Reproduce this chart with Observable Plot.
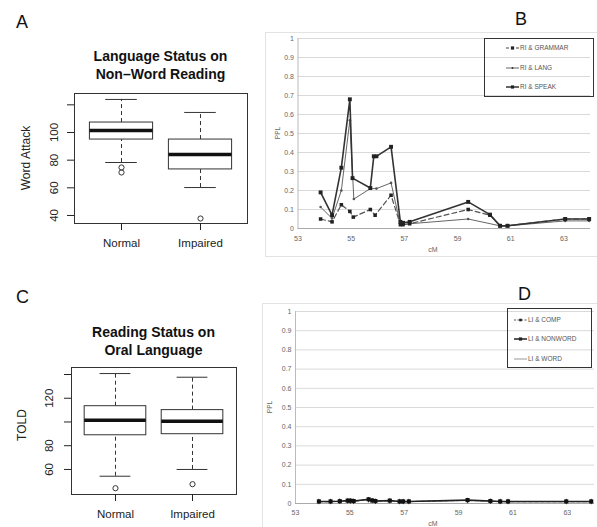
<!DOCTYPE html>
<html><head><meta charset="utf-8">
<script src="https://cdn.jsdelivr.net/npm/d3@7"></script>
<script src="https://cdn.jsdelivr.net/npm/@observablehq/plot@0.6"></script>
<style>
body{margin:0;background:#fff;}
#fig{position:relative;width:597px;height:527px;overflow:hidden;background:#fff;font-family:"Liberation Sans",Arial,Helvetica,sans-serif;}
.abs{position:absolute;white-space:nowrap;}
</style></head><body><div id="fig"></div>
<script>
// ---------- Panel A data (Language Status on Non-Word Reading) ----------
const catsA = ["Normal", "Impaired"];
const aLo = [78.3, 60.2];
const aQ1 = [94.9, 73.3];
const aMed = [101.4, 84.1];
const aQ3 = [107.2, 94.9];
const aHi = [123.9, 114.5];
const aOutGroup = [1, 1, 2];
const aOutVal = [74.7, 71.1, 37.8];
const aTicks = [40, 60, 80, 100, 120];
const aTickLabels = ["40", "60", "80", "100", ""];

// ---------- Panel C data (Reading Status on Oral Language) ----------
const catsC = ["Normal", "Impaired"];
const cLo = [54.3, 60.0];
const cQ1 = [88.8, 89.7];
const cMed = [101.5, 100.6];
const cQ3 = [113.3, 110.0];
const cHi = [140.8, 137.7];
const cOutGroup = [1, 2];
const cOutVal = [44.2, 47.6];
const cTicks = [60, 80, 100, 120, 140];
const cTickLabels = ["60", "80", "", "120", ""];

// ---------- Panel B data (PPL by cM) ----------
const cmGrammar = [53.85, 54.28, 54.63, 54.95, 55.08, 55.72, 55.9, 56.5, 56.85, 56.95, 57.2, 59.4, 60.22, 60.6, 60.88, 63.05, 63.95];
const pplGrammar = [0.05, 0.035, 0.125, 0.09, 0.06, 0.10, 0.07, 0.175, 0.02, 0.02, 0.025, 0.10, 0.07, 0.015, 0.015, 0.05, 0.05];
const cmLang = [53.85, 54.28, 54.63, 54.95, 55.1, 55.72, 55.95, 56.5, 56.85, 56.95, 57.2, 59.4, 60.6, 60.88, 63.05, 63.95];
const pplLang = [0.113, 0.053, 0.2, 0.57, 0.155, 0.21, 0.21, 0.24, 0.02, 0.02, 0.025, 0.05, 0.014, 0.014, 0.04, 0.04];
const cmSpeak = [53.85, 54.28, 54.63, 54.95, 55.05, 55.72, 55.85, 55.95, 56.5, 56.85, 56.95, 57.2, 59.4, 60.22, 60.6, 60.88, 63.05, 63.95];
const pplSpeak = [0.19, 0.07, 0.32, 0.68, 0.265, 0.213, 0.38, 0.38, 0.43, 0.035, 0.03, 0.035, 0.14, 0.073, 0.014, 0.014, 0.05, 0.05];

// ---------- Panel D data ----------
const cmD = [53.86, 54.29, 54.63, 54.92, 55.02, 55.14, 55.69, 55.82, 55.94, 56.47, 56.83, 56.96, 57.17, 59.33, 60.17, 60.53, 60.82, 62.96, 63.88];
const pplComp = [0.010, 0.010, 0.012, 0.014, 0.013, 0.012, 0.020, 0.015, 0.012, 0.014, 0.010, 0.010, 0.010, 0.016, 0.012, 0.010, 0.010, 0.010, 0.010];
const pplNonword = [0.011, 0.011, 0.012, 0.015, 0.015, 0.013, 0.022, 0.016, 0.013, 0.015, 0.011, 0.011, 0.011, 0.018, 0.013, 0.011, 0.011, 0.011, 0.011];
const pplWord = [0.010, 0.010, 0.011, 0.013, 0.013, 0.012, 0.019, 0.014, 0.012, 0.013, 0.010, 0.010, 0.010, 0.015, 0.012, 0.010, 0.010, 0.010, 0.010];

const pplTicks = [0, 0.1, 0.2, 0.3, 0.4, 0.5, 0.6, 0.7, 0.8, 0.9, 1];
const pplTickLabels = ["0", "0.1", "0.2", "0.3", "0.4", "0.5", "0.6", "0.7", "0.8", "0.9", "1"];
const cmTicks = [53, 55, 57, 59, 61, 63];

const FONT = '"Liberation Sans", Arial, Helvetica, sans-serif';
const fig = document.getElementById("fig");

function addText(str, x, y, {size = 12, weight = "normal", color = "#222", anchor = "start", rotate = 0} = {}) {
  const d = document.createElement("div");
  d.className = "abs";
  d.textContent = str;
  d.style.fontSize = size + "px";
  d.style.lineHeight = size + "px";
  d.style.fontWeight = weight;
  d.style.color = color;
  if (rotate) {
    d.style.left = x + "px"; d.style.top = y + "px";
    d.style.transform = `translate(-50%,-50%) rotate(${rotate}deg)`;
  } else {
    d.style.top = (y - 0.846 * size) + "px";
    d.style.left = x + "px";
    if (anchor === "middle") d.style.transform = "translateX(-50%)";
  }
  fig.appendChild(d);
}
function place(svg, left, top) {
  svg.style.position = "absolute";
  svg.style.left = left + "px";
  svg.style.top = top + "px";
  fig.appendChild(svg);
}
function addBox(left, top, w, h, color, bw = 1) {
  const d = document.createElement("div");
  d.className = "abs";
  Object.assign(d.style, {left: left + "px", top: top + "px", width: w + "px", height: h + "px",
    border: `${bw}px solid ${color}`, boxSizing: "border-box"});
  fig.appendChild(d);
  return d;
}

function boxPanel(o) {
  const rows = o.cats.map((c, i) => ({g: i + 1, lo: o.lo[i], q1: o.q1[i], med: o.med[i], q3: o.q3[i], hi: o.hi[i]}));
  const outs = o.outG.map((g, i) => ({g, v: o.outV[i]}));
  const hw = 0.4, cw = 0.2;
  return Plot.plot({
    width: o.width, height: o.height,
    marginLeft: o.ml, marginRight: o.mr, marginTop: o.mt, marginBottom: o.mb,
    x: {domain: o.xDomain, axis: null},
    y: {domain: o.yDomain, axis: null},
    style: {fontFamily: FONT, fontSize: "11.5px", color: "#222", background: "transparent", overflow: "visible"},
    marks: [
      Plot.ruleX(rows, {x: "g", y1: "q3", y2: "hi", stroke: "#333", strokeDasharray: "4,3"}),
      Plot.ruleX(rows, {x: "g", y1: "lo", y2: "q1", stroke: "#333", strokeDasharray: "4,3"}),
      Plot.ruleY(rows, {y: "hi", x1: d => d.g - cw, x2: d => d.g + cw, stroke: "#333"}),
      Plot.ruleY(rows, {y: "lo", x1: d => d.g - cw, x2: d => d.g + cw, stroke: "#333"}),
      Plot.rect(rows, {x1: d => d.g - hw, x2: d => d.g + hw, y1: "q1", y2: "q3", fill: "white", stroke: "#333"}),
      Plot.ruleY(rows, {y: "med", x1: d => d.g - hw, x2: d => d.g + hw, stroke: "#111", strokeWidth: 3.5}),
      Plot.dot(outs, {x: "g", y: "v", r: 2.6, stroke: "#333", strokeWidth: 1}),
      Plot.frame({stroke: "#333"}),
      Plot.axisY({ticks: o.yTicks, tickFormat: d => o.yLabels[o.yTicks.indexOf(d)], tickRotate: -90, tickSize: 7, tickPadding: o.yPad, label: null}),
      Plot.axisX({ticks: [1, 2], tickFormat: d => o.cats[d - 1], tickSize: 7, tickPadding: 8, label: null})
    ]
  });
}

function linePanel(o) {
  const rowsOf = (cm, v) => cm.map((x, i) => ({cm: x, ppl: v[i]}));
  const marks = [
    Plot.gridY({ticks: pplTicks, stroke: "#d9d9d9", strokeOpacity: 1}),
    Plot.ruleX([53], {stroke: "#bbb"}),
    Plot.ruleY([0], {stroke: "#aaa"}),
    Plot.axisY({ticks: pplTicks, tickFormat: d => pplTickLabels[pplTicks.indexOf(d)], tickSize: 0, tickPadding: 4, label: null}),
    Plot.axisX({ticks: cmTicks, tickSize: 0, tickPadding: o.xPad, label: null})
  ];
  for (const s of o.series) {
    const rows = rowsOf(s.cm, s.v);
    marks.push(Plot.line(rows, {x: "cm", y: "ppl", stroke: s.color, strokeWidth: s.w, strokeDasharray: s.dash || null}));
    if (s.r) marks.push(Plot.dot(rows, {x: "cm", y: "ppl", r: s.r, fill: s.mcolor, symbol: s.symbol}));
  }
  return Plot.plot({
    width: o.width, height: o.height,
    marginLeft: o.ml, marginRight: o.mr, marginTop: o.mt, marginBottom: o.mb,
    x: {domain: [53, 64], axis: null},
    y: {domain: [0, 1], axis: null},
    style: {fontFamily: FONT, fontSize: "7px", color: "#666", background: "transparent", overflow: "visible"},
    marks
  });
}

function legend(left, top, w, h, items) {
  addBox(left, top, w, h, "#333", 1.3);
  for (const it of items) {
    const svg = d3.create("svg").attr("width", 14).attr("height", 8)
      .style("position", "absolute").style("left", it.sx + "px").style("top", (it.y - 4) + "px");
    svg.append("line").attr("x1", 0).attr("x2", 13).attr("y1", 4).attr("y2", 4)
      .attr("stroke", it.color).attr("stroke-width", it.w).attr("stroke-dasharray", it.dash || null);
    if (it.r) svg.append("rect").attr("x", 6.5 - it.r).attr("y", 4 - it.r).attr("width", 2 * it.r).attr("height", 2 * it.r).attr("fill", "#222");
    fig.appendChild(svg.node());
    addText(it.label, it.sx + 14, it.y + 2.3, {size: 6.5, color: "#555"});
  }
}

// ---------- Panel A ----------
place(boxPanel({cats: catsA, lo: aLo, q1: aQ1, med: aMed, q3: aQ3, hi: aHi, outG: aOutGroup, outV: aOutVal,
  xDomain: [0.405, 2.595], yDomain: [34.2, 128.2], yTicks: aTicks, yLabels: aTickLabels, yPad: 10,
  width: 250, height: 262, ml: 74, mr: 3, mt: 93, mb: 39}), 0, 0);
addText("A", 16, 28, {size: 18, color: "#111"});
addText("Language Status on", 160.5, 61, {size: 14, weight: "bold", color: "#111", anchor: "middle"});
addText("Non\u2013Word Reading", 160.5, 78.5, {size: 14, weight: "bold", color: "#111", anchor: "middle"});
addText("Word Attack", 26, 158, {size: 12, color: "#222", rotate: -90});

// ---------- Panel C ----------
place(boxPanel({cats: catsC, lo: cLo, q1: cQ1, med: cMed, q3: cQ3, hi: cHi, outG: cOutGroup, outV: cOutVal,
  xDomain: [0.429, 2.571], yDomain: [38.9, 145.9], yTicks: cTicks, yLabels: cTickLabels, yPad: 12,
  width: 250, height: 257, ml: 71, mr: 14, mt: 97, mb: 33}), 0, 270);
addText("C", 16, 303, {size: 18, color: "#111"});
addText("Reading Status on", 153.5, 336.7, {size: 14, weight: "bold", color: "#111", anchor: "middle"});
addText("Oral Language", 153.5, 355, {size: 14, weight: "bold", color: "#111", anchor: "middle"});
addText("TOLD", 22, 425, {size: 12, color: "#222", rotate: -90});

// ---------- Panel B ----------
addBox(265, 32, 340, 225, "#e3e3e3", 1);
place(linePanel({width: 347, height: 262, ml: 47.5, mr: 7, mt: 38, mb: 34, xPad: 8,
  series: [
    {cm: cmLang, v: pplLang, color: "#666", w: 1, r: 1.3, mcolor: "#555", symbol: "circle"},
    {cm: cmGrammar, v: pplGrammar, color: "#555", w: 1.2, dash: "5,3", r: 2, mcolor: "#222", symbol: "square"},
    {cm: cmSpeak, v: pplSpeak, color: "#333", w: 1.6, r: 2.2, mcolor: "#222", symbol: "square"}
  ]}), 250, 0);
addText("B", 515, 25, {size: 18, color: "#111"});
addText("PPL", 278, 133, {size: 6.5, color: "#666", rotate: -90});
addText("cM", 433, 251.5, {size: 7, color: "#666", anchor: "middle"});
legend(484, 38, 110, 59, [
  {label: "RI & GRAMMAR", y: 48, sx: 506, color: "#444", w: 1, dash: "3,2", r: 1.6},
  {label: "RI & LANG", y: 68, sx: 506, color: "#666", w: 1, r: 0.8},
  {label: "RI & SPEAK", y: 87, sx: 506, color: "#333", w: 1.5, r: 1.6}
]);

// ---------- Panel D ----------
addBox(262, 303, 345, 240, "#e3e3e3", 1);
place(linePanel({width: 347, height: 257, ml: 45, mr: 3, mt: 41, mb: 24, xPad: 7,
  series: [
    {cm: cmD, v: pplWord, color: "#888", w: 1},
    {cm: cmD, v: pplComp, color: "#555", w: 1.1, dash: "4,2", r: 1.8, mcolor: "#222", symbol: "diamond"},
    {cm: cmD, v: pplNonword, color: "#222", w: 1.5, r: 2.3, mcolor: "#111", symbol: "square"}
  ]}), 250, 270);
addText("D", 518, 300, {size: 18, color: "#111"});
addText("PPL", 270, 407, {size: 6.5, color: "#666", rotate: -90});
addText("cM", 433, 526, {size: 7, color: "#666", anchor: "middle"});
legend(507, 308, 85, 60, [
  {label: "LI & COMP", y: 320, sx: 514, color: "#555", w: 1, dash: "2,1.5", r: 1.3},
  {label: "LI & NONWORD", y: 339, sx: 514, color: "#222", w: 1.5, r: 1.6},
  {label: "LI & WORD", y: 359, sx: 514, color: "#999", w: 1, r: 0}
]);
</script></body></html>
